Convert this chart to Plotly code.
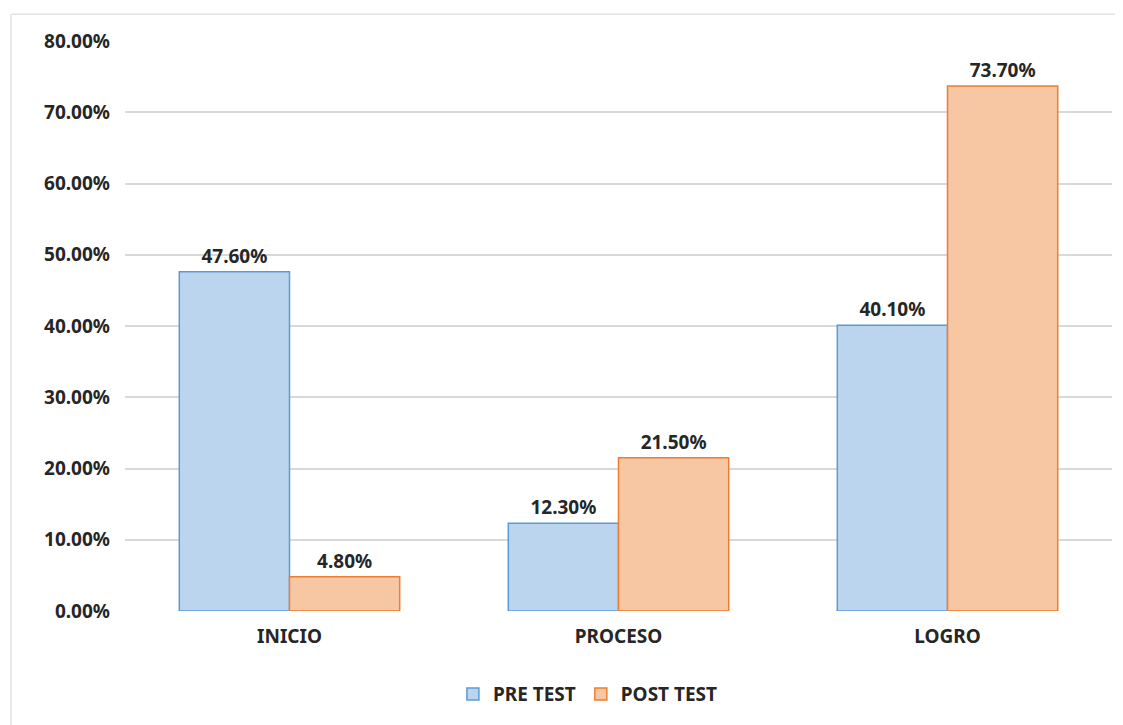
import plotly.graph_objects as go

categories = ["INICIO", "PROCESO", "LOGRO"]
pre_test = [47.6, 12.3, 40.1]
post_test = [4.8, 21.5, 73.7]
y_ticks = [0, 10, 20, 30, 40, 50, 60, 70, 80]
y_tick_labels = ["0.00%", "10.00%", "20.00%", "30.00%", "40.00%", "50.00%", "60.00%", "70.00%", "80.00%"]

FONT = "Noto Sans"
TXT = "#262626"
FS = 19

fig = go.Figure()
fig.add_trace(go.Bar(
    name="PRE TEST", x=categories, y=pre_test,
    marker=dict(color="#bcd5ef", line=dict(color="#5b9bd5", width=1.5)),
    text=[f"{v:.2f}%" for v in pre_test], textposition="outside",
    textfont=dict(family=FONT, size=FS, color=TXT, weight="bold"),
    cliponaxis=False,
))
fig.add_trace(go.Bar(
    name="POST TEST", x=categories, y=post_test,
    marker=dict(color="#f7c6a3", line=dict(color="#ed7d31", width=1.5)),
    text=[f"{v:.2f}%" for v in post_test], textposition="outside",
    textfont=dict(family=FONT, size=FS, color=TXT, weight="bold"),
    cliponaxis=False,
))

fig.update_layout(
    width=1123, height=725,
    margin=dict(l=117, r=19, t=33, b=122),
    paper_bgcolor="white", plot_bgcolor="white",
    barmode="group", bargap=0.33, bargroupgap=0,
    font=dict(family=FONT, color=TXT),
    showlegend=True,
    legend=dict(orientation="h", x=0.469, xanchor="center", y=-0.146, yanchor="middle",
                font=dict(family=FONT, size=FS, color=TXT, weight="bold"),
                itemwidth=30, traceorder="normal"),
    shapes=[
        dict(type="line", xref="paper", yref="paper", x0=-0.1155, x1=1.02, y0=1.047, y1=1.047,
             line=dict(color="#e3e3e3", width=1.5)),
        dict(type="line", xref="paper", yref="paper", x0=-0.1155, x1=-0.1155, y0=-0.3, y1=1.047,
             line=dict(color="#e3e3e3", width=1.5)),
    ],
)
fig.update_yaxes(range=[0, 80], tickvals=y_ticks, ticktext=y_tick_labels,
                 showgrid=True, gridcolor="#d9d9d9", gridwidth=1.5,
                 zeroline=False, showline=False, ticks="", ticklabelstandoff=14,
                 tickfont=dict(family=FONT, size=FS, color=TXT, weight="bold"))
fig.update_xaxes(showgrid=False, showline=False, ticks="", zeroline=False,
                 ticklabelstandoff=12,
                 tickfont=dict(family=FONT, size=FS, color=TXT, weight="bold"))

fig.write_html("out.html")
